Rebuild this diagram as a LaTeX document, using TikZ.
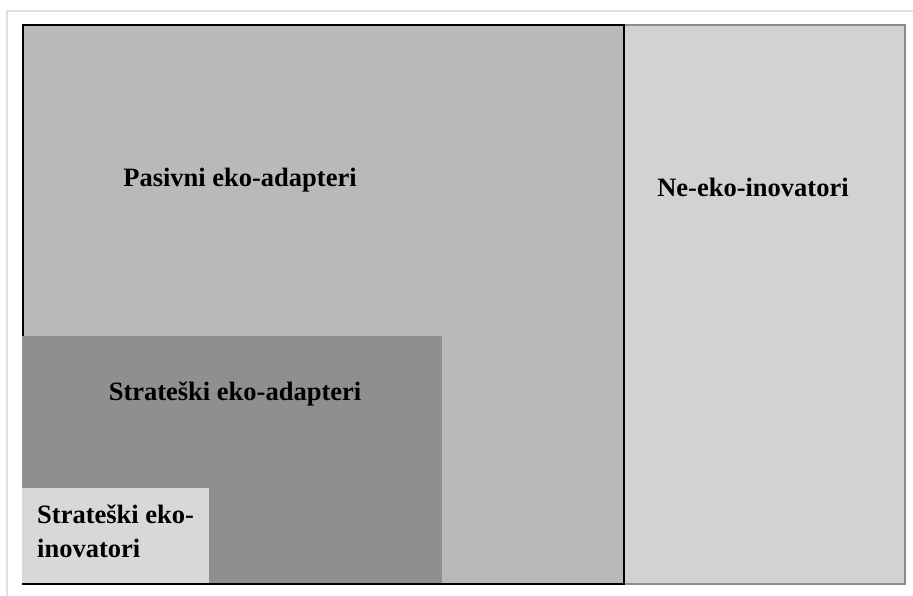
\documentclass[tikz,border=0pt]{standalone}
\usepackage{fontspec}
\setmainfont{Liberation Serif}
\usepackage{tikz}

\definecolor{framegray}{HTML}{E0E0E0}
\definecolor{pasivgray}{HTML}{B8B9BB}
\definecolor{neekogray}{HTML}{D1D2D4}
\definecolor{neekoline}{HTML}{8C8C8C}
\definecolor{adaptgray}{HTML}{8E8F91}
\definecolor{inovgray}{HTML}{D7D8DA}

\begin{document}
\begin{tikzpicture}[x=1pt, y=-1pt,
  region/.style = {shape=rectangle, inner sep=0pt, outer sep=0pt},
  label/.style = {inner sep=0pt, text=black,
    font=\fontsize{26.5}{34}\selectfont\bfseries}]
  \useasboundingbox (0,0) rectangle (913,596);
  \draw[framegray, line width=1.5pt] (7,596) -- (7,11) -- (913,11);
  % areas
  \draw[region, fill=neekogray, draw=neekoline, line width=2.2pt]
    (624,25) rectangle (905,584);
  \draw[region, fill=pasivgray, draw=black, line width=2.2pt]
    (23,25) rectangle (624,584);
  \fill[adaptgray] (22,336) rectangle (442,583);
  \fill[inovgray] (22,488) rectangle (209,583);
  % labels
  \node[label, anchor=base] (pasivni) at (240,187) {Pasivni eko-adapteri};
  \node[label, anchor=base] (neeko) at (753,197) {Ne-eko-inovatori};
  \node[label, anchor=base] (adapteri) at (235,400) {Strateški eko-adapteri};
  \node[label, anchor=base west, align=left] (inovatori) at (37,557)
    {Strateški eko-\\inovatori};
\end{tikzpicture}
\end{document}
